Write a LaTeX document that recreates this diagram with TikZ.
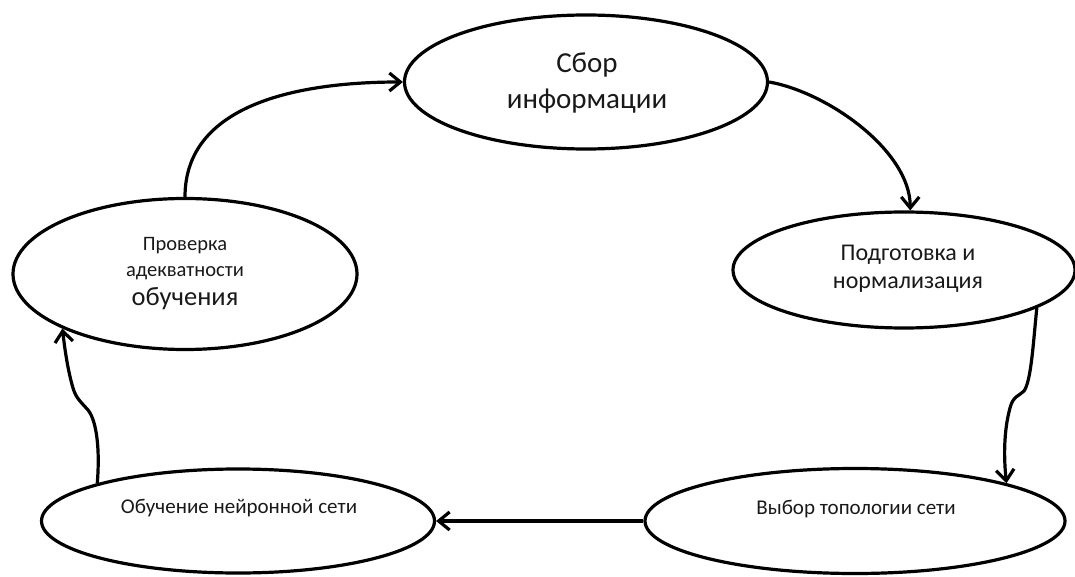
\documentclass[tikz,border=0pt]{standalone}
\usepackage{fontspec}
\setmainfont{Carlito}
\usetikzlibrary{arrows.meta,shapes.geometric}
\begin{document}
\begin{tikzpicture}[x=1pt,y=1pt,
  stage/.style={ellipse, draw, line width=3.2pt, inner sep=0pt},
  conn/.style={line width=3.2pt, line join=round, -{Straight Barb[length=11pt,width=18pt]}},
  lbl/.style={align=center, inner sep=0pt, text=black!90}]
\useasboundingbox (0,0) rectangle (1075,576);
\node[stage, minimum width=363pt, minimum height=134pt] (e1) at (586,494) {};
\node[stage, minimum width=342pt, minimum height=116pt] (e2) at (904,306) {};
\node[stage, minimum width=344pt, minimum height=151pt] (e3) at (185,302) {};
\node[stage, minimum width=393pt, minimum height=104pt] (e4) at (238,55) {};
\node[stage, minimum width=420pt, minimum height=105pt] (e5) at (855,55) {};
\node[lbl, font=\fontsize{29}{36}\selectfont] (t1) at (587,493) {Сбор\\информации};
\node[lbl, font=\fontsize{24}{28}\selectfont] (t2) at (908,307) {Подготовка и\\нормализация};
\node[lbl, font=\fontsize{20.5}{26}\selectfont] (t3) at (185,302) {Проверка\\адекватности\\[3pt]{\fontsize{26.5}{26}\selectfont обучения}};
\node[lbl, font=\fontsize{21}{24}\selectfont] (t4) at (239,68) {Обучение нейронной сети};
\node[lbl, font=\fontsize{21}{24}\selectfont] (t5) at (856,67) {Выбор топологии сети};
\draw[conn] (e3.north) to[out=90,in=180] (e1.west);
\draw[conn] (e1.east) to[out=-10,in=90,looseness=0.8] (e2.84);
\draw[conn] (e2.-16) .. controls (1033,230) and (1031,195) .. (1024,185) .. controls (1019,180) and (1013,180) .. (1010,168) .. controls (1005,150) and (1003,125) .. (e5.14);
\draw[conn] (e5.west) -- (e4.east);
\draw[conn] (e4.165) .. controls (100,125) and (97,155) .. (88,166) .. controls (80,175) and (76,178) .. (73,188) .. controls (68,205) and (65,225) .. (e3.204);
\end{tikzpicture}
\end{document}
